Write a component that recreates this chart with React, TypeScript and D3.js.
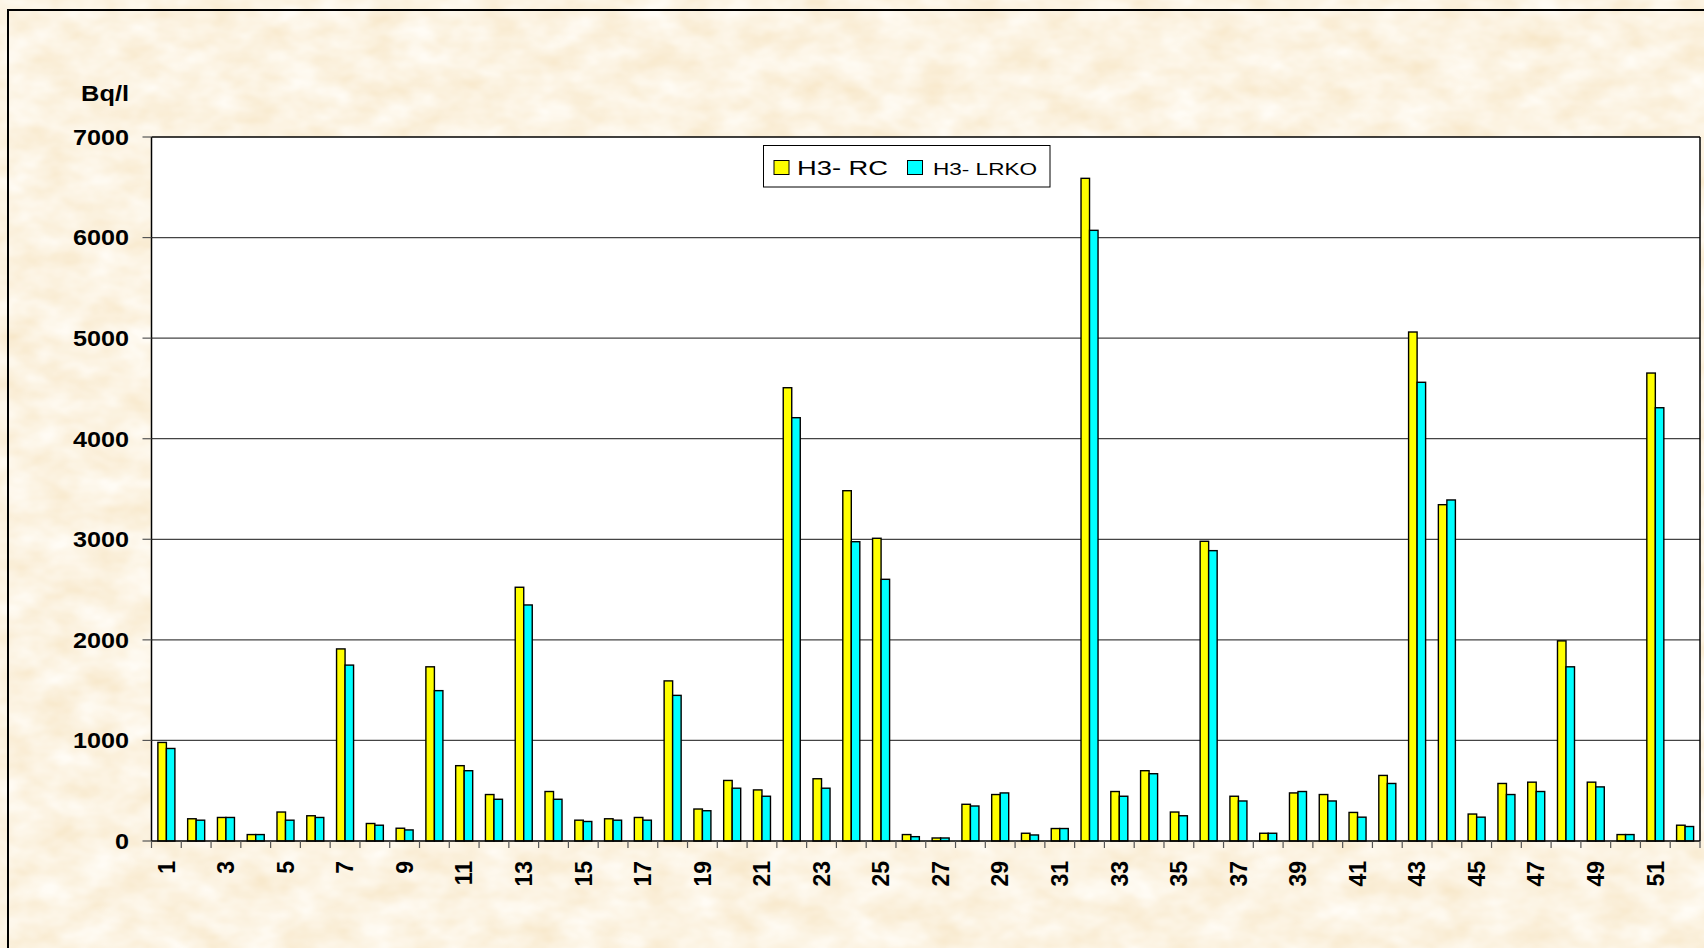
import React from 'react';
import * as d3 from 'd3';

// values (Bq/l)
const categories = d3.range(1, 53).map(String);
const seriesNames = ['H3- RC', 'H3- LRKO'];
const rcValues = [980, 221, 234, 64, 288, 251, 1910, 174, 127, 1732, 749, 462, 2523, 492, 207, 221, 234, 1592, 318, 602, 508, 4507, 619, 3483, 3010, 64, 30, 365, 462, 77, 124, 6589, 492, 699, 288, 2980, 445, 77, 478, 462, 284, 652, 5061, 3344, 268, 572, 585, 1990, 585, 64, 4653, 157];
const lrkoValues = [920, 207, 234, 64, 207, 234, 1749, 157, 110, 1495, 699, 415, 2347, 415, 194, 207, 207, 1448, 301, 525, 445, 4209, 525, 2976, 2602, 43, 30, 348, 478, 60, 124, 6072, 445, 669, 251, 2887, 398, 77, 492, 398, 237, 572, 4561, 3391, 237, 462, 492, 1732, 538, 64, 4308, 144];
const yTicks = [0, 1000, 2000, 3000, 4000, 5000, 6000, 7000];
const seriesColors = ['#ffff00', '#00ffff'];

const W = 1704;
const H = 948;
const plot = { left: 151.5, right: 1700, top: 137, bottom: 841 };
const FONT = '"Liberation Sans", Arial, sans-serif';

export default function App() {
  const x = d3.scaleBand().domain(categories).range([plot.left, plot.right]).padding(0);
  const step = x.step();
  const gap = step * 1.5 / 3.5; // excel-like gap width 150%
  const xs = d3.scaleBand().domain(seriesNames).range([gap / 2, step - gap / 2]).padding(0);
  const y = d3.scaleLinear().domain([0, 7000]).range([plot.bottom, plot.top]);

  const series = [rcValues, lrkoValues];

  return (
    <div style={{ position: 'absolute', left: 0, top: 0 }}>
      <svg width={W} height={H} style={{ display: 'block' }}>
        <defs>
          <filter id="paper" x="0" y="0" width="100%" height="100%">
            <feTurbulence type="fractalNoise" baseFrequency="0.025 0.04" numOctaves="3" seed="7" />
            <feColorMatrix type="matrix" values="0 0 0 0 1  0 0 0 0 0.97  0 0 0 0 0.91  1.2 0 0 0 0" />
          </filter>
        </defs>
        {/* parchment background */}
        <rect x={0} y={0} width={W} height={H} fill="#f7e6c6" />
        <rect x={0} y={0} width={W} height={H} filter="url(#paper)" />
        <rect x={8} y={10} width={W + 40} height={H + 40} fill="none" stroke="#000" strokeWidth={2} />

        {/* plot area */}
        <rect x={plot.left} y={plot.top} width={plot.right - plot.left} height={plot.bottom - plot.top} fill="#fff" />
        {yTicks.filter(t => t > 0 && t < 7000).map(t => (
          <line key={t} x1={plot.left} x2={plot.right} y1={y(t)} y2={y(t)} stroke="#444" strokeWidth={1.2} />
        ))}

        {/* bars */}
        {series.map((vals, si) => (
          <g key={si}>
            {vals.map((v, i) => (
              <rect
                key={i}
                x={(x(categories[i]) ?? 0) + (xs(seriesNames[si]) ?? 0)}
                y={y(v)}
                width={xs.bandwidth()}
                height={y(0) - y(v)}
                fill={seriesColors[si]}
                stroke="#000"
                strokeWidth={1.4}
              />
            ))}
          </g>
        ))}

        {/* frame of plot area */}
        <line x1={plot.left} x2={plot.right} y1={plot.top} y2={plot.top} stroke="#000" strokeWidth={1.5} />
        <line x1={plot.right} x2={plot.right} y1={plot.top} y2={plot.bottom} stroke="#000" strokeWidth={1.5} />
        <line x1={plot.left} x2={plot.left} y1={plot.top} y2={plot.bottom} stroke="#000" strokeWidth={1.5} />
        <line x1={plot.left} x2={plot.right} y1={plot.bottom} y2={plot.bottom} stroke="#000" strokeWidth={1.5} />

        {/* y axis */}
        {yTicks.map(t => (
          <g key={t}>
            <line x1={plot.left - 9} x2={plot.left} y1={y(t)} y2={y(t)} stroke="#555" strokeWidth={1.2} />
            <text
              transform={`translate(129,${y(t)}) scale(1.12,1)`}
              dy="0.35em"
              textAnchor="end"
              fontFamily={FONT}
              fontWeight="bold"
              fontSize={22.5}
              fill="#000"
            >
              {t}
            </text>
          </g>
        ))}
        <text transform="translate(129,101) scale(1.18,1)" textAnchor="end" fontFamily={FONT} fontWeight="bold" fontSize={21.5} fill="#000">Bq/l</text>

        {/* x axis */}
        {d3.range(0, categories.length + 1).map(i => {
          const xx = plot.left + i * step;
          return <line key={i} x1={xx} x2={xx} y1={plot.bottom} y2={plot.bottom + 7} stroke="#555" strokeWidth={1.2} />;
        })}
        {categories.map((c, i) => (i % 2 === 0 ? (
          <text
            key={c}
            transform={`translate(${(x(c) ?? 0) + step / 2},861) rotate(-90)`}
            dy="0.36em"
            textAnchor="end"
            fontFamily={FONT}
            fontWeight="bold"
            fontSize={23}
            fill="#000"
          >
            {c}
          </text>
        ) : null))}

        {/* legend */}
        <g>
          <rect x={763.5} y={145.5} width={286.5} height={41.5} fill="#fff" stroke="#000" strokeWidth={1} />
          <rect x={774} y={160.5} width={15} height={14} fill={seriesColors[0]} stroke="#000" strokeWidth={1} />
          <text x={797} y={175} fontFamily={FONT} fontSize={21} fill="#000" textLength={91} lengthAdjust="spacingAndGlyphs">{seriesNames[0]}</text>
          <rect x={907.5} y={160.5} width={15} height={14} fill={seriesColors[1]} stroke="#000" strokeWidth={1} />
          <text x={933} y={175} fontFamily={FONT} fontSize={17} fill="#000" textLength={104} lengthAdjust="spacingAndGlyphs">{seriesNames[1]}</text>
        </g>
      </svg>
    </div>
  );
}
